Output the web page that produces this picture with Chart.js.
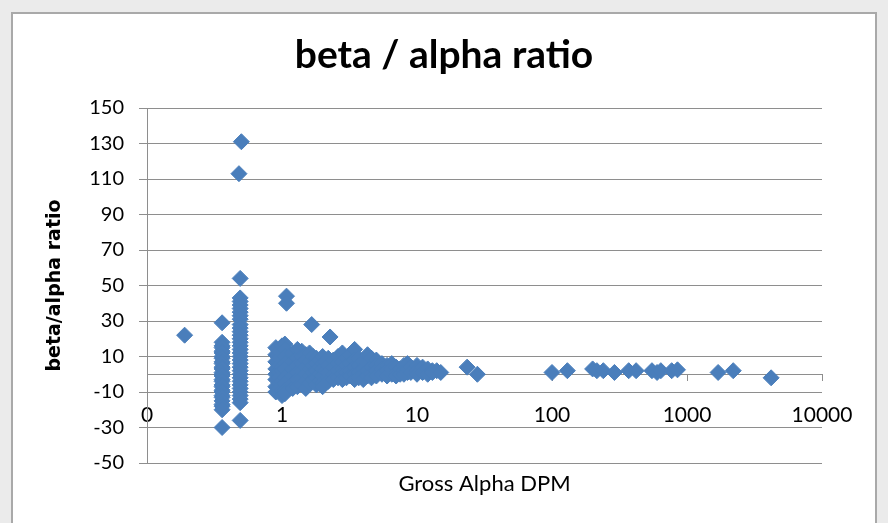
<!DOCTYPE html>
<html>
<head>
<meta charset="utf-8">
<script src="https://cdn.jsdelivr.net/npm/chart.js@4/dist/chart.umd.min.js"></script>
<style>
  html, body { margin: 0; padding: 0; background: #ebebeb; }
  #wrap { position: relative; width: 888px; height: 523px; overflow: hidden; }
  #panel { position: absolute; left: 11px; top: 12px; width: 862px; height: 530px; background: #fff; border: 2px solid #a9a9a9; }
  #chart { position: absolute; left: 0; top: 0; }
</style>
</head>
<body>
<div id="wrap">
  <div id="panel"></div>
  <canvas id="chart" width="888" height="523"></canvas>
</div>
<script>
// Gross alpha DPM values (x) and the beta/alpha ratios measured at each of them (y)
const alphaDpm = [
  0.19, 0.36, 0.48, 0.49, 0.5,
  0.9, 0.95, 1.0, 1.05, 1.08,
  1.2, 1.3, 1.4, 1.5, 1.6, 1.66, 1.7, 1.8, 1.9,
  2.0, 2.1, 2.2, 2.27, 2.4, 2.6, 2.8, 3.0, 3.2, 3.45, 3.7,
  4.0, 4.3, 4.6, 5.0, 5.5, 6.0, 6.5, 7.0, 7.5, 8.0, 8.5, 9.0,
  10, 11, 12, 13, 14, 15, 23.5, 28,
  100, 130, 200, 215, 240, 290, 370, 420, 550, 600, 640, 770, 850,
  1700, 2200, 4200
];
const ratios = [
  [22],
  [29, 18, 16, 15, 13, 12, 10, 9, 7, 6, 4, 3, 1, 0, -1, -3, -4, -6, -7, -9, -10, -12, -13, -15, -17, -18, -20, -30],
  [113],
  [54, 43, 41, 39, 37, 35, 33, 31, 28, 26, 24, 22, 20, 18, 16, 14, 12, 10, 8, 6, 4, 2, 0, -2, -4, -6, -8, -10, -12, -14, -16, -26],
  [131],
  [15, 11, 7, 3, 0, -3, -7, -10],
  [13, 9, 5, 1, -2, -5, -8],
  [16, 12, 8, 4, 2, -1, -4, -6, -9, -12],
  [17, 14, 10, 6, 3, -2, -5, -9, -11],
  [44, 40],
  [12, 7, 3, -1, -5, -8],
  [14, 9, 5, 1, -3, -7],
  [13, 10, 6, 2, -2, -6],
  [11, 8, 4, 0, -4, -8],
  [12, 7, 3, -1, -5],
  [28],
  [10, 5, 1, -3],
  [9, 6, 2, -2, -6],
  [8, 4, 0, -4],
  [10, 6, 3, -1, -5, -7],
  [7, 2, -3],
  [9, 5, 1, -2, -4],
  [21],
  [8, 4, 0, -3],
  [10, 6, 2, -2],
  [12, 7, 3, 0, -3],
  [9, 5, 1, -2],
  [11, 6, 2, -1],
  [14, 8, 4, 0, -3],
  [9, 5, 1, -2],
  [7, 3, 0, -3],
  [11, 6, 2, -1],
  [9, 4, 0, -2],
  [8, 5, 2, -1],
  [6, 3, 0],
  [5, 2, -1],
  [6, 3, 0],
  [4, 1, -1],
  [3, 0],
  [5, 2, 0],
  [6, 3, 1],
  [4, 1],
  [5, 2, 0],
  [4, 1],
  [3, 0],
  [2, 1],
  [2],
  [1],
  [4],
  [0],
  [1], [2], [3], [2], [2], [1], [2], [2], [2], [1], [2], [2], [2.5],
  [1], [2], [-2]
];
const xTicks = [0.1, 1, 10, 100, 1000, 10000];
const xTickLabels = ['0', '1', '10', '100', '1000', '10000'];
const yTicks = [-50, -30, -10, 10, 30, 50, 70, 90, 110, 130, 150];

const points = [];
alphaDpm.forEach((x, i) => {
  ratios[i].forEach(y => points.push({ x: x, y: y }));
});

const FONT = "Lato, 'Open Sans', sans-serif";
const GRID = '#8e8e8e';

const ctx = document.getElementById('chart').getContext('2d');
new Chart(ctx, {
  type: 'scatter',
  data: {
    datasets: [{
      label: 'beta/alpha ratio',
      data: points,
      pointStyle: 'rectRot',
      pointRadius: 8,
      pointHoverRadius: 8,
      borderWidth: 1,
      backgroundColor: '#4a7ebb',
      borderColor: '#4a7ebb'
    }]
  },
  options: {
    responsive: false,
    animation: false,
    events: [],
    layout: { padding: { top: 12, left: 12, right: 12, bottom: 0 } },
    plugins: {
      legend: { display: false },
      tooltip: { enabled: false },
      title: {
        display: true,
        text: 'beta / alpha ratio',
        color: '#000',
        font: { family: FONT, size: 39, weight: 'bold' },
        padding: { top: 20, bottom: 29.2 }
      },
      subtitle: {
        display: true,
        position: 'bottom',
        fullSize: false,
        text: 'Gross Alpha DPM',
        color: '#000',
        font: { family: FONT, size: 22, weight: 'normal' },
        padding: { top: 7.8, bottom: 25.8 }
      }
    },
    scales: {
      x: {
        type: 'logarithmic',
        min: 0.1,
        max: 10000,
        position: { y: 0 },
        afterBuildTicks: scale => { scale.ticks = xTicks.map(v => ({ value: v })); },
        grid: { drawOnChartArea: false, drawTicks: true, tickLength: 6, color: GRID },
        border: { display: true, color: GRID, width: 1 },
        ticks: {
          color: '#000',
          font: { family: FONT, size: 21 },
          padding: 22,
          maxRotation: 0,
          autoSkip: false,
          callback: (value, index) => xTickLabels[index]
        }
      },
      y: {
        type: 'linear',
        min: -50,
        max: 150,
        afterBuildTicks: scale => { scale.ticks = yTicks.map(v => ({ value: v })); },
        afterFit: scale => { scale.width = 135; },
        grid: { color: GRID, tickLength: 8 },
        border: { display: true, color: GRID, width: 1 },
        ticks: {
          color: '#000',
          font: { family: FONT, size: 20 },
          padding: 15
        },
        title: {
          display: true,
          text: 'beta/alpha ratio',
          color: '#000',
          font: { family: "'DejaVu Sans', sans-serif", size: 19, weight: 'bold' },
          padding: { top: 31.6, bottom: 0 }
        }
      },
      // empty right-hand box so the plot ends where the original does
      y2: {
        position: 'right',
        display: true,
        grid: { display: false },
        border: { display: false },
        ticks: { display: false },
        afterFit: scale => { scale.width = 54; }
      }
    }
  }
});
</script>
</body>
</html>
